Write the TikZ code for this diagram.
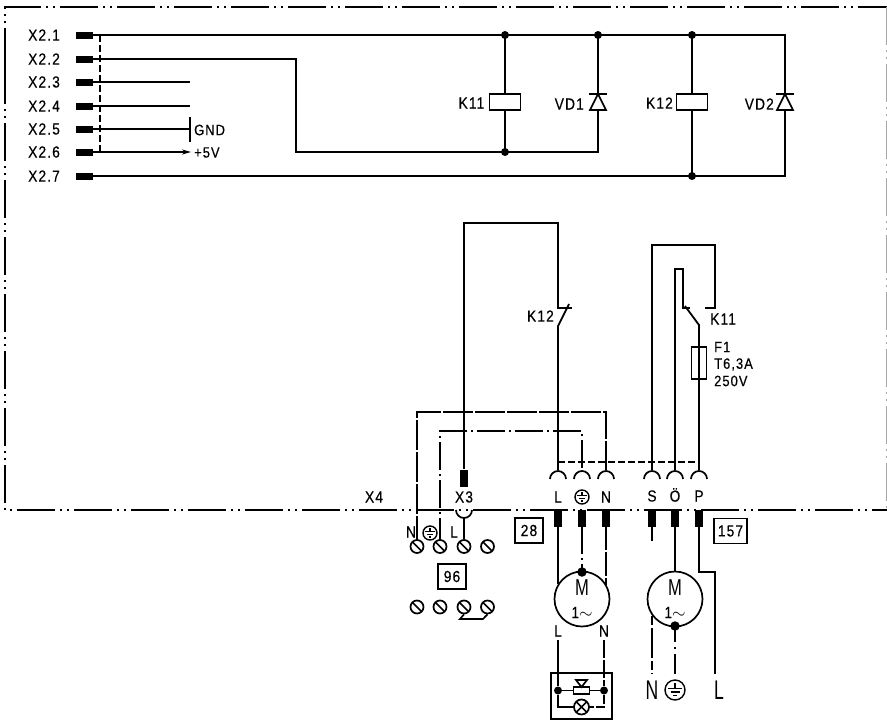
\documentclass[tikz,border=0pt]{standalone}
\usepackage{fontspec}
\setmainfont{Liberation Sans}[FakeBold=0.35,FakeStretch=0.86,LetterSpace=7]
\newfontfamily\bigfont{Liberation Sans}
\newfontfamily\mfont{Liberation Sans}[FakeStretch=0.72]
\usetikzlibrary{arrows.meta,calc}
\tikzset{
  wire/.style={line width=1.8pt,line cap=butt},
  frameline/.style={line width=1.8pt,dash pattern=on 38pt off 5pt on 2pt off 5pt on 2pt off 5pt},
  dashwire/.style={line width=1.8pt,dash pattern=on 7pt off 3pt},
  longdash/.style={line width=1.8pt,dash pattern=on 30pt off 2pt},
  dashdot/.style={line width=1.8pt,dash pattern=on 28pt off 4pt on 2pt off 4pt},
  term/.style={fill=black,draw=none,inner sep=0pt,minimum width=17pt,minimum height=7pt},
  vterm/.style={fill=black,draw=none,inner sep=0pt,minimum width=8pt,minimum height=17pt},
  jn/.style={circle,fill=black,draw=none,inner sep=0pt,minimum size=8pt},
  bigjn/.style={circle,fill=black,draw=none,inner sep=0pt,minimum size=9.5pt},
  lab/.style={inner sep=0pt,font=\fontsize{16}{16}\selectfont},
  smlab/.style={inner sep=0pt,font=\fontsize{15}{15}\selectfont},
  biglab/.style={inner sep=0pt,font=\bigfont\fontsize{27}{27}\selectfont,xscale=.65},
  mlab/.style={inner sep=0pt,font=\mfont\fontsize{23}{23}\selectfont},
  coil/.style={draw,line width=1.7pt,fill=white,inner sep=0pt,minimum width=31pt,minimum height=16pt},
  numbox/.style={draw,line width=1.7pt,fill=white,inner sep=0pt,minimum width=28pt,minimum height=25pt,font=\fontsize{16}{16}\selectfont},
  motor/.style={circle,draw,line width=1.7pt,inner sep=0pt,minimum size=55pt,fill=white},
  screw/.style={circle,draw,line width=1.7pt,inner sep=0pt,minimum size=13pt,fill=white},
  socket/.style={line width=1.7pt}
}
\newcommand{\earthsym}[2]{% centre, radius
  \draw[line width=1.4pt] (#1) circle (#2pt);
  \draw[line width=1.4pt] ($(#1)+(-0.7*#2,-0.18*#2)$) -- ($(#1)+(0.7*#2,-0.18*#2)$);
  \draw[line width=1.4pt] ($(#1)+(-0.45*#2,0.2*#2)$) -- ($(#1)+(0.45*#2,0.2*#2)$);
  \draw[line width=1.4pt] ($(#1)+(-0.2*#2,0.55*#2)$) -- ($(#1)+(0.2*#2,0.55*#2)$);
  \draw[line width=1.4pt] ($(#1)+(0,-0.7*#2)$) -- ($(#1)+(0,-0.18*#2)$);
}
\newcommand{\screwat}[2]{%
  \node[screw] (#1) at (#2) {};
  \draw[line width=1.7pt] ($(#1)+(-4.5pt,4.5pt)$) -- ($(#1)+(4.5pt,-4.5pt)$);
}
\newcommand{\diodeat}[2]{% x, y of top bar
  \draw[line width=1.7pt,fill=white] (#1-8,#2+16) -- (#1+8,#2+16) -- (#1,#2) -- cycle;
  \draw[line width=1.7pt] (#1-9,#2) -- (#1+9,#2);
}
\begin{document}
\begin{tikzpicture}[x=1pt,y=-1pt]
\useasboundingbox (0,0) rectangle (887,721);
% frame
\draw[frameline] (5,66) -- (5,7) -- (887,7);
\draw[frameline] (5,66) -- (5,510) -- (887,510);
\draw[black!35,frameline,line width=1pt] (886,7) -- (886,509);
% upper connectors
\foreach \n/\y in {1/35,2/59,3/82,4/106,5/129,6/152,7/176}{
  \node[term] (T\n) at (84.5,\y) {};
  \node[lab,anchor=west] at (28,\y) {X2.\n};
}
\coordinate (A1) at (505,35);\coordinate (A2) at (598,35);\coordinate (A3) at (692,35);
\coordinate (B1) at (505,152);\coordinate (B3) at (692,176);
\draw[wire] (T1) -- (785,35) -- (785,176) -- (T7);
\draw[wire] (T2) -- (296,59) -- (296,152) -- (598,152) -- (598,35);
\draw[wire] (T3) -- (190,82);
\draw[wire] (T4) -- (190,106);
\draw[wire] (T5) -- (190,129);
\draw[wire] (190,117) -- (190,142);
\draw[wire,-{Stealth[length=9pt,width=5pt]}] (T6) -- (191,152);
\draw[dashwire] (100,35) -- (100,152);
\node[smlab,anchor=west] at (194,130) {GND};
\node[smlab,anchor=west] at (194,152.5) {+5V};
\draw[wire] (A1) -- (B1);
\draw[wire] (A3) -- (B3);
\node[coil] (K11) at (505,102) {};
\node[coil] (K12) at (692,102) {};
\node[jn] at (A1) {};\node[jn] at (A2) {};\node[jn] at (A3) {};\node[jn] at (B1) {};\node[jn] at (B3) {};
\diodeat{598}{94}
\diodeat{785}{94}
\node[lab,anchor=east] at (484.5,103) {K11};
\node[lab,anchor=east] at (584,104) {VD1};
\node[lab,anchor=east] at (673,103) {K12};
\node[lab,anchor=east] at (774,104) {VD2};
% lower terminals
\foreach \n/\x in {L/558,E/582,Nn/606,S/652,O/675,P/699}{
  \draw[socket] (\x-8,479) arc[start angle=180,end angle=0,radius=8pt];
  \coordinate (S\n) at (\x,470);
  \node[vterm] (V\n) at (\x,518) {};
}
\node[vterm] (X3t) at (464,478) {};
% K12 contact wire
\draw[wire] (X3t) -- (464,223) -- (558,223) -- (558,308) -- (572,308);
\draw[wire] (569,304) -- (558,326) -- (SL);
\node[lab,anchor=east] at (554,316) {K12};
% K11 contact & fuse
\draw[wire] (SS) -- (652,245) -- (715,245) -- (715,308) -- (705,308);
\draw[wire] (SO) -- (675,269) -- (683,269) -- (683,308) -- (690,308);
\draw[wire] (685,306) -- (699,325) -- (SP);
\node[draw,line width=1.7pt,fill=white,inner sep=0pt,minimum width=15pt,minimum height=32pt] (F1) at (699,363) {};
\draw[wire] (699,346) -- (699,380);
\node[lab,anchor=west] at (710,319) {K11};
\node[smlab,anchor=west] at (714,347) {F1};
\node[smlab,anchor=west] at (714,364.5) {T6,3A};
\node[smlab,anchor=west] at (714,381) {250V};
% cross wires
\draw[dashwire] (558,462) -- (699,462);
\draw[longdash] (417,546) -- (417,412) -- (606,412) -- (SNn);
\draw[dashdot] (440,546) -- (440,431) -- (582,431) -- (SE);
% labels above frame line
\node[lab] at (374,497) {X4};
\node[lab] at (464,497) {X3};
\node[lab] at (558,497) {L};
\earthsym{582,497}{7}
\node[lab] at (606,497) {N};
\node[lab] at (652,496) {S};
\node[lab] at (675,495) {Ö};
\node[lab] at (699,496) {P};
% X3 plug
\draw[socket] (456,510) arc[start angle=180,end angle=360,radius=8pt];
% 96 block
\node[lab] at (411,532) {N};
\earthsym{430,533}{7}
\node[lab] at (454,532) {L};
\screwat{SA}{417,546.5}
\screwat{SB}{440,546.5}
\screwat{SC}{464,546.5}
\screwat{SD}{487.5,546.5}
\screwat{SE2}{417,607}
\screwat{SF}{440,607}
\screwat{SG}{464,607}
\screwat{SH}{487.5,607}
\draw[wire] (464,518) -- (SC);
\draw[line width=1.7pt] (SG.south) -- (460,619) -- (483,619) -- (SH.south);
\node[numbox] (n96) at (452,576.5) {96};
\node[numbox] (n28) at (529,530.5) {28};
\node[numbox,minimum width=33pt] (n157) at (730.5,531) {157};
% motor 1
\node[motor] (M1) at (582,599) {};
\node[mlab] at (582,588) {M};
\node[lab] at (582,612.5) {1$\sim$};
\draw[wire] (VL) -- (558,584);
\draw[dashdot] (582,526) -- (582,572);
\draw[longdash,dash pattern=on 24pt off 2pt] (606,526) -- (606,585);
\node[bigjn] (J1) at (582,572) {};
\node[lab] at (558,631) {L};
\node[lab] at (604,631) {N};
% valve box
\draw[line width=1.7pt] (551,673) rectangle (612,719);
\node[jn] (JL) at (558,690.5) {};
\node[jn] (JR) at (604,690.5) {};
\draw[wire] (558,640) -- (JL) -- (558,707) -- (574,707);
\draw[wire,dash pattern=on 18pt off 2pt] (604,640) -- (JR);
\draw[wire,dash pattern=on 9pt off 2pt] (JR) -- (604,707) -- (589,707);
\draw[wire] (JL) -- (JR);
\draw[line width=1.7pt,fill=white] (573.5,687) rectangle (589.5,694);
\draw[line width=1.7pt,fill=white] (576,680) -- (587,680) -- (581.5,687) -- cycle;
\draw[line width=1.7pt] (581.5,707) circle (7.5pt);
\draw[line width=1.5pt] (576.2,701.7) -- (586.8,712.3) (576.2,712.3) -- (586.8,701.7);
% motor 2
\node[motor] (M2) at (675,599) {};
\node[mlab] at (675,588) {M};
\node[lab] at (675,612.5) {1$\sim$};
\draw[wire] (VS) -- (652,541);
\draw[wire] (VO) -- (M2.north);
\draw[wire] (VP) -- (699,572) -- (715,572) -- (715,674);
\draw[wire,dash pattern=on 9pt off 3pt on 30pt off 3pt] (652,616) -- (652,674);
\draw[wire,dash pattern=on 16pt off 5pt on 2pt off 5pt on 20pt off 2pt] (675,626) -- (675,674);
\node[bigjn] (J2) at (675,626) {};
\node[biglab] at (652,690) {N};
\earthsym{675,690}{10}
\node[biglab,anchor=west] at (714,690) {L};
\end{tikzpicture}
\end{document}
